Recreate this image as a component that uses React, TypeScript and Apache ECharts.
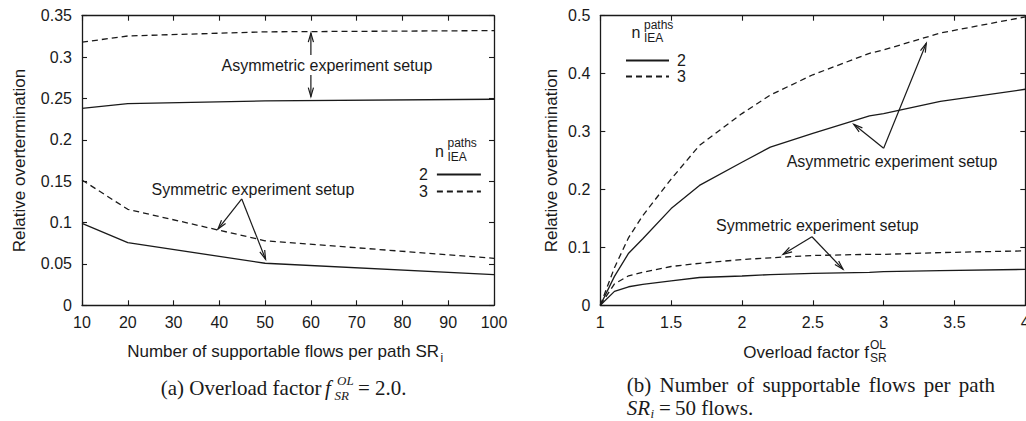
import React, { useEffect, useRef } from "react";
import * as echarts from "echarts";

// ---------- data ----------
const flowsX = [10, 20, 50, 100];
const leftAsym2 = [0.238, 0.2437, 0.247, 0.249];
const leftAsym3 = [0.318, 0.3255, 0.3305, 0.332];
const leftSym2 = [0.099, 0.0757, 0.0508, 0.037];
const leftSym3 = [0.1514, 0.116, 0.078, 0.0568];

const overloadX = [1, 1.1, 1.2, 1.3, 1.5, 1.7, 2, 2.2, 2.5, 2.9, 3, 3.4, 4];
const rightAsym2 = [0, 0.05, 0.09, 0.115, 0.167, 0.207, 0.247, 0.273, 0.297, 0.327, 0.331, 0.352, 0.373];
const rightAsym3 = [0, 0.065, 0.117, 0.155, 0.218, 0.276, 0.331, 0.363, 0.398, 0.435, 0.441, 0.47, 0.498];
const rightSym2 = [0, 0.024, 0.032, 0.036, 0.042, 0.048, 0.0506, 0.053, 0.055, 0.057, 0.058, 0.06, 0.062];
const rightSym3 = [0, 0.037, 0.051, 0.057, 0.067, 0.0725, 0.079, 0.082, 0.086, 0.088, 0.088, 0.091, 0.094];

const legendNames = ["2", "3"];
const leftXRange = [10, 100, 10];
const leftYRange = [0, 0.35, 0.05];
const rightXRange = [1, 4, 0.5];
const rightYRange = [0, 0.5, 0.1];

const yTitle = "Relative overtermination";
const asymText = "Asymmetric experiment setup";
const symText = "Symmetric experiment setup";
const captionBWords = ["(b)", "Number", "of", "supportable", "flows", "per", "path"];

// annotation anchors in data coordinates
const leftAsymLabel = [63.5, 0.2896];
const leftAsymArrows = [
  [[60, 0.3025], [60, 0.329]],
  [[60, 0.2783], [60, 0.2521]],
];
const leftSymLabel = [47.35, 0.1394];
const leftSymArrows = [
  [[44.9, 0.1285], [39.7, 0.0922]],
  [[44.9, 0.1285], [50.1, 0.0556]],
];
const rightAsymLabel = [3.059, 0.249];
const rightAsymArrows = [
  [[3.0, 0.271], [2.789, 0.3125]],
  [[3.0, 0.271], [3.301, 0.4523]],
];
const rightSymLabel = [2.532, 0.1386];
const rightSymArrows = [
  [[2.494, 0.1184], [2.29, 0.088]],
  [[2.494, 0.1184], [2.713, 0.0622]],
];

const INK = "#1a1a1a";
const SANS = "'Liberation Sans', Arial, Helvetica, sans-serif";
const SERIF = "'Liberation Serif', 'Times New Roman', serif";
const CAP_FS = 20;
const CAP_SX = 1.05;

const zip = (xs: number[], ys: number[]) => xs.map((x, i) => [x, ys[i]]);

function lineSeries(name: string, xi: number, data: number[][], dashed: boolean) {
  return {
    type: "line",
    name,
    xAxisIndex: xi,
    yAxisIndex: xi,
    data,
    symbol: "none",
    silent: true,
    color: INK,
    lineStyle: { color: INK, width: 1.3, type: dashed ? [6, 4] : "solid" },
  };
}

function axisPair(grid: number, range: number[], isX: boolean) {
  const common = {
    gridIndex: grid,
    type: "value",
    min: range[0],
    max: range[1],
    interval: range[2],
    splitLine: { show: false },
    axisLine: { show: true, onZero: false, lineStyle: { color: INK, width: 1.3 } },
    axisTick: { show: true, inside: true, length: 5, lineStyle: { color: INK, width: 1.1 } },
  };
  return [
    {
      ...common,
      position: isX ? "bottom" : "left",
      axisLabel: { show: true, margin: isX ? 9 : 10, fontSize: 16, color: INK, fontFamily: SANS, hideOverlap: false },
    },
    {
      ...common,
      position: isX ? "top" : "right",
      axisLabel: { show: false },
    },
  ];
}

function arrow(p0: number[], p1: number[]) {
  const dx = p1[0] - p0[0];
  const dy = p1[1] - p0[1];
  const len = Math.hypot(dx, dy) || 1;
  const ux = dx / len;
  const uy = dy / len;
  const hl = 9;
  const hw = 2.6;
  const bx = p1[0] - ux * hl;
  const by = p1[1] - uy * hl;
  const a = [bx - uy * hw, by + ux * hw];
  const b = [bx + uy * hw, by - ux * hw];
  const st = { stroke: INK, lineWidth: 1.2, fill: null };
  return [
    { type: "polyline", silent: true, shape: { points: [p0, p1] }, style: st },
    { type: "polyline", silent: true, shape: { points: [a, p1, b] }, style: st },
  ];
}

function txt(x: number, y: number, text: string, o: any = {}) {
  return {
    type: "text",
    x,
    y,
    silent: true,
    rotation: o.rotation || 0,
    scaleX: o.scaleX || 1,
    style: {
      text,
      fill: INK,
      fontSize: o.fontSize || 16,
      fontFamily: o.fontFamily || SANS,
      fontStyle: o.fontStyle || "normal",
      align: o.align || "left",
      verticalAlign: o.verticalAlign || "middle",
    },
  };
}

export default function App() {
  const ref = useRef<HTMLDivElement>(null);

  useEffect(() => {
    const chart = echarts.init(ref.current!, null, { renderer: "svg" });
    const lx = axisPair(0, leftXRange, true);
    const rx = axisPair(1, rightXRange, true);
    const ly = axisPair(0, leftYRange, false);
    const ry = axisPair(1, rightYRange, false);

    const option: any = {
      animation: false,
      backgroundColor: "#fff",
      textStyle: { fontFamily: SANS, color: INK },
      grid: [
        { left: 82, top: 15.7, width: 412, height: 289.6, containLabel: false, outerBoundsMode: "none" },
        { left: 600.3, top: 15.7, width: 425, height: 289.6, containLabel: false, outerBoundsMode: "none" },
      ],
      xAxis: [lx[0], lx[1], rx[0], rx[1]],
      yAxis: [ly[0], ly[1], ry[0], ry[1]],
      legend: [
        {
          data: legendNames,
          orient: "vertical",
          left: 414,
          top: 161.5,
          align: "right",
          itemWidth: 44,
          itemHeight: 16,
          itemGap: 1,
          selectedMode: false,
          itemStyle: { opacity: 0 },
          textStyle: { fontSize: 16, color: INK, fontFamily: SANS, padding: [0, 4, 0, 0] },
        },
        {
          data: legendNames,
          orient: "vertical",
          left: 620,
          top: 47.5,
          align: "left",
          itemWidth: 43,
          itemHeight: 16,
          itemGap: 0,
          selectedMode: false,
          itemStyle: { opacity: 0 },
          textStyle: { fontSize: 16, color: INK, fontFamily: SANS, padding: [0, 0, 0, 3] },
        },
      ],
      series: [
        lineSeries("2", 0, zip(flowsX, leftAsym2), false),
        lineSeries("3", 0, zip(flowsX, leftAsym3), true),
        lineSeries("2", 0, zip(flowsX, leftSym2), false),
        lineSeries("3", 0, zip(flowsX, leftSym3), true),
        lineSeries("2", 2, zip(overloadX, rightAsym2), false),
        lineSeries("3", 2, zip(overloadX, rightAsym3), true),
        lineSeries("2", 2, zip(overloadX, rightSym2), false),
        lineSeries("3", 2, zip(overloadX, rightSym3), true),
      ],
    };
    chart.setOption(option);

    const L = (p: number[]) => chart.convertToPixel({ seriesIndex: 0 }, p) as number[];
    const R = (p: number[]) => chart.convertToPixel({ seriesIndex: 4 }, p) as number[];

    const els: any[] = [];
    // annotations
    const la = L(leftAsymLabel);
    els.push(txt(la[0], la[1], asymText, { align: "center" }));
    leftAsymArrows.forEach((a) => els.push(...arrow(L(a[0]), L(a[1]))));
    const ls = L(leftSymLabel);
    els.push(txt(ls[0], ls[1], symText, { align: "center" }));
    leftSymArrows.forEach((a) => els.push(...arrow(L(a[0]), L(a[1]))));
    const ra = R(rightAsymLabel);
    els.push(txt(ra[0], ra[1], asymText, { align: "center" }));
    rightAsymArrows.forEach((a) => els.push(...arrow(R(a[0]), R(a[1]))));
    const rs = R(rightSymLabel);
    els.push(txt(rs[0], rs[1], symText, { align: "center" }));
    rightSymArrows.forEach((a) => els.push(...arrow(R(a[0]), R(a[1]))));

    // legend titles n_IEA^paths
    els.push(txt(435, 151.7, "n", { fontSize: 16 }));
    els.push(txt(447.5, 143, "paths", { fontSize: 12 }));
    els.push(txt(447.5, 156.5, "IEA", { fontSize: 12 }));
    els.push(txt(631.5, 32.5, "n", { fontSize: 16 }));
    els.push(txt(644, 25, "paths", { fontSize: 12 }));
    els.push(txt(644, 38, "IEA", { fontSize: 12 }));

    // y axis titles
    els.push(txt(19, 160.5, yTitle, { align: "center", rotation: Math.PI / 2, fontSize: 17 }));
    els.push(txt(551, 160.5, yTitle, { align: "center", rotation: Math.PI / 2, fontSize: 17 }));

    // x axis titles
    els.push(txt(439, 351, "Number of supportable flows per path SR", { align: "right", fontSize: 17 }));
    els.push(txt(440.5, 358, "i", { fontSize: 12 }));
    els.push(txt(869, 352, "Overload factor f", { align: "right", fontSize: 17 }));
    els.push(txt(870, 345, "OL", { fontSize: 12 }));
    els.push(txt(870, 357.5, "SR", { fontSize: 12 }));

    // caption (a)
    const cs = { fontFamily: SERIF, fontSize: CAP_FS, scaleX: CAP_SX };
    const ci = { ...cs, fontStyle: "italic" };
    const cSmall = { fontFamily: SERIF, fontSize: 13, fontStyle: "italic" };
    els.push(txt(160.7, 388, "(a) Overload factor", cs));
    els.push(txt(325, 388, "f", ci));
    els.push(txt(337, 380, "OL", cSmall));
    els.push(txt(334.5, 395.5, "SR", cSmall));
    els.push(txt(358, 388, "=", cs));
    els.push(txt(375, 388, "2.0.", cs));

    // caption (b) line 1, justified between the measured left and right margins
    const cv = document.createElement("canvas").getContext("2d")!;
    cv.font = `${CAP_FS}px 'Liberation Serif'`;
    const widths = captionBWords.map((w) => cv.measureText(w).width * CAP_SX);
    const bLeft = 626.7;
    const bRight = 995;
    const total = widths.reduce((s, w) => s + w, 0);
    const gap = (bRight - bLeft - total) / (captionBWords.length - 1);
    let cx = bLeft;
    captionBWords.forEach((w, i) => {
      els.push(txt(cx, 385, w, cs));
      cx += widths[i] + gap;
    });
    // caption (b) line 2
    els.push(txt(626.7, 408, "SR", ci));
    els.push(txt(650.5, 413, "i", cSmall));
    els.push(txt(659, 408, "=", cs));
    els.push(txt(675, 408, "50 flows.", cs));

    chart.setOption({ graphic: { elements: els } });

    return () => chart.dispose();
  }, []);

  return (
    <div
      ref={ref}
      style={{ position: "fixed", left: 0, top: 0, width: 1026, height: 421, background: "#fff" }}
    />
  );
}
